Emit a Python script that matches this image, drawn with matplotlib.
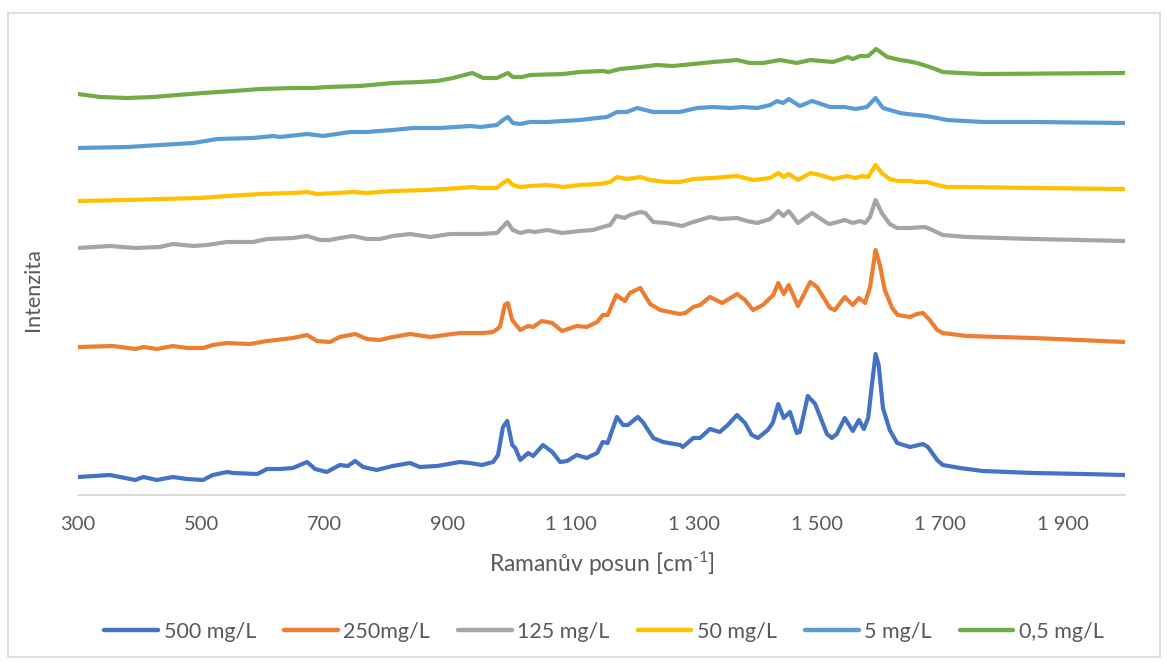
import matplotlib
matplotlib.use("Agg")
import matplotlib.pyplot as plt
from matplotlib.patches import Rectangle

plt.rcParams["font.family"] = ["Lato", "DejaVu Sans"]
plt.rcParams["mathtext.fontset"] = "custom"
plt.rcParams["mathtext.rm"] = "Lato"
plt.rcParams["mathtext.it"] = "Lato:italic"
plt.rcParams["mathtext.bf"] = "Lato:bold"

# Raman spectra (arbitrary intensity units, spectra stacked with offsets)
shift_500 = [300, 352, 393, 406, 428, 454, 477, 503, 519, 542, 552, 591, 607, 628, 649,
             672, 685, 704, 725, 738, 750, 763, 785, 811, 839, 855, 883, 920, 936, 956,
             974, 982, 990, 997, 1005, 1010, 1018, 1031, 1039, 1055, 1070, 1083, 1094,
             1110, 1126, 1143, 1152, 1160, 1175, 1185, 1193, 1209, 1217, 1234, 1250,
             1278, 1282, 1299, 1310, 1326, 1342, 1355, 1370, 1383, 1394, 1404, 1420,
             1428, 1437, 1446, 1456, 1467, 1472, 1485, 1497, 1516, 1524, 1532, 1545,
             1558, 1568, 1576, 1583, 1589, 1595, 1600, 1607, 1618, 1630, 1651, 1672,
             1680, 1695, 1704, 1732, 1769, 1851, 1932, 2000]
int_500 = [18, 20, 15, 18, 15, 18, 16, 15, 20, 23, 22, 21, 26, 26, 27,
           33, 26, 23, 30, 29, 34, 28, 25, 29, 32, 28, 29, 33, 32, 30,
           33, 40, 68, 74, 50, 47, 35, 42, 39, 50, 43, 33, 34,
           40, 37, 42, 53, 52, 78, 70, 70, 78, 73, 57, 53,
           50, 48, 57, 57, 66, 63, 70, 80, 72, 60, 57, 65,
           72, 91, 77, 83, 62, 63, 99, 91, 61, 57, 61, 77,
           64, 75, 66, 77, 110, 141, 130, 87, 65, 52, 48, 51,
           48, 35, 30, 27, 24, 22, 21, 20]

shift_250 = [300, 357, 393, 406, 428, 454, 477, 503, 519, 542, 579, 607, 649, 672, 688,
             709, 725, 750, 769, 790, 811, 839, 872, 920, 958, 974, 985, 993, 998, 1005,
             1018, 1031, 1039, 1053, 1070, 1086, 1110, 1126, 1143, 1152, 1160, 1174,
             1188, 1196, 1213, 1229, 1245, 1277, 1286, 1299, 1310, 1326, 1346, 1370,
             1383, 1396, 1412, 1429, 1437, 1446, 1454, 1469, 1489, 1500, 1521, 1529,
             1545, 1558, 1568, 1578, 1586, 1595, 1602, 1610, 1622, 1631, 1651, 1662,
             1672, 1683, 1695, 1704, 1743, 1851, 2000]
int_250 = [148, 149, 146, 148, 146, 149, 147, 147, 150, 152, 151, 154, 157, 160, 154,
           153, 158, 161, 156, 155, 158, 161, 158, 162, 162, 163, 168, 190, 192, 175,
           165, 169, 168, 174, 172, 164, 169, 168, 173, 180, 180, 200,
           194, 202, 207, 191, 185, 181, 182, 188, 190, 198, 192, 201,
           195, 185, 190, 200, 212, 201, 210, 189, 213, 208, 187, 185,
           198, 190, 197, 192, 208, 245, 230, 205, 187, 180, 178, 181,
           182, 175, 165, 162, 159, 157, 153]

shift_125 = [300, 352, 393, 433, 454, 487, 509, 542, 584, 607, 649, 672, 693, 709, 725,
             747, 769, 790, 811, 839, 872, 904, 953, 980, 988, 997, 1006, 1018, 1031,
             1042, 1062, 1086, 1115, 1136, 1152, 1164, 1174, 1187, 1196, 1213, 1221,
             1234, 1256, 1281, 1294, 1310, 1326, 1342, 1370, 1386, 1403, 1424, 1437,
             1445, 1454, 1469, 1492, 1516, 1521, 1545, 1558, 1570, 1578, 1586, 1595,
             1605, 1618, 1630, 1651, 1675, 1687, 1704, 1743, 1851, 2000]
int_125 = [247, 249, 247, 248, 251, 249, 250, 253, 253, 256, 257, 259, 255, 255, 257,
           259, 256, 256, 259, 261, 258, 261, 261, 262, 267, 273, 265, 262, 264,
           263, 265, 262, 264, 265, 268, 270, 279, 277, 280, 283, 282,
           273, 272, 269, 272, 275, 278, 276, 277, 274, 272, 276, 284,
           279, 284, 272, 282, 272, 271, 275, 272, 274, 272, 278, 295,
           282, 271, 267, 267, 268, 265, 260, 258, 256, 254]

shift_50 = [300, 380, 433, 498, 542, 596, 649, 672, 688, 720, 747, 769, 811, 867, 920,
            941, 953, 980, 990, 998, 1006, 1018, 1034, 1062, 1088, 1115, 1148, 1164,
            1175, 1191, 1213, 1229, 1256, 1277, 1299, 1331, 1370, 1396, 1424, 1437,
            1446, 1454, 1469, 1489, 1505, 1526, 1549, 1562, 1573, 1583, 1595, 1605,
            1618, 1631, 1651, 1662, 1678, 1695, 1711, 1743, 1851, 2000]
int_50 = [294, 295, 296, 297, 299, 301, 302, 303, 301, 302, 303, 302, 304, 305, 307,
          308, 307, 307, 312, 315, 310, 308, 309, 310, 308, 310, 311, 313,
          318, 316, 318, 315, 313, 313, 316, 317, 319, 315, 317, 322,
          318, 321, 315, 322, 320, 316, 319, 317, 319, 318, 330, 322,
          316, 314, 314, 313, 313, 310, 308, 308, 307, 306]

shift_5 = [300, 380, 433, 487, 526, 584, 617, 628, 672, 698, 742, 769, 811, 844, 888,
           937, 953, 980, 990, 998, 1006, 1018, 1034, 1062, 1088, 1115, 1143, 1159,
           1175, 1191, 1208, 1234, 1261, 1277, 1305, 1331, 1359, 1380, 1403, 1424,
           1435, 1445, 1454, 1472, 1492, 1521, 1545, 1562, 1581, 1595, 1607, 1635,
           1646, 1662, 1678, 1695, 1711, 1769, 1851, 2000]
int_5 = [347, 348, 350, 352, 356, 357, 359, 358, 361, 359, 363, 363, 365, 367, 367,
         369, 368, 370, 375, 378, 372, 371, 373, 373, 374, 375, 377, 378,
         383, 383, 387, 383, 383, 383, 387, 388, 387, 388, 387, 390,
         394, 392, 396, 389, 394, 388, 388, 386, 388, 397, 387, 382,
         381, 380, 379, 377, 375, 373, 373, 372]

shift_05 = [300, 336, 380, 422, 461, 503, 552, 596, 649, 682, 704, 758, 811, 855, 883,
            909, 940, 958, 980, 998, 1006, 1021, 1034, 1088, 1115, 1152, 1161, 1180,
            1213, 1240, 1266, 1299, 1331, 1370, 1391, 1412, 1440, 1467, 1489, 1526,
            1550, 1558, 1570, 1583, 1596, 1614, 1635, 1646, 1662, 1683, 1704, 1732,
            1769, 2000]
int_05 = [401, 398, 397, 398, 400, 402, 404, 406, 407, 407, 408, 409, 412, 413, 414,
          417, 422, 417, 417, 422, 418, 418, 420, 421, 423, 424, 423, 426,
          428, 430, 429, 431, 433, 435, 432, 432, 435, 432, 435, 433,
          438, 436, 439, 439, 446, 438, 435, 434, 432, 428, 423, 422,
          421, 422]

labels = ["500 mg/L", "250mg/L", "125 mg/L", "50 mg/L", "5 mg/L", "0,5 mg/L"]
colors = ["#4472C4", "#ED7D31", "#A5A5A5", "#FFC000", "#5B9BD5", "#70AD47"]
series = [(shift_500, int_500), (shift_250, int_250), (shift_125, int_125),
          (shift_50, int_50), (shift_5, int_5), (shift_05, int_05)]

x_ticks = [300, 500, 700, 900, 1100, 1300, 1500, 1700, 1900]

text_color = "#595959"
grid_color = "#D9D9D9"

W, H = 1167, 664
fig = plt.figure(figsize=(W / 100, H / 100), dpi=100)
ax = fig.add_axes([78 / W, (H - 495) / H, 1047 / W, 475 / H])

for (xs, ys), lab, col in zip(series, labels, colors):
    ax.plot(xs, ys, color=col, lw=3.0, label=lab, solid_capstyle="round",
            solid_joinstyle="round")

ax.set_xlim(300, 2000)
ax.set_ylim(0, 475)
ax.set_xticks(x_ticks)
ax.set_xticklabels([f"{v:,}".replace(",", " ") for v in x_ticks])
ax.set_yticks([])
ax.tick_params(axis="x", length=0, pad=15, labelsize=14.5, labelcolor=text_color)
for s in ("top", "right", "left"):
    ax.spines[s].set_visible(False)
ax.spines["bottom"].set_color(grid_color)
ax.spines["bottom"].set_linewidth(1.3)

ax.set_xlabel("Ramanův posun [cm$^{\\text{-1}}$]", fontsize=16.5,
              color=text_color, labelpad=12)
fig.text(33 / W, 1 - 290 / H, "Intenzita", rotation=90, ha="center", va="center",
         fontsize=15.5, color=text_color)

leg = fig.legend(loc="center", bbox_to_anchor=(604 / W, 1 - 632 / H), ncol=6,
                 frameon=False, fontsize=15.5, handlelength=2.5, handletextpad=0.25,
                 columnspacing=1.3)
for t in leg.get_texts():
    t.set_color(text_color)
for h in leg.get_lines():
    h.set_linewidth(3.2)

fig.patches.append(Rectangle((8 / W, 1 - 657 / H), 1152 / W, 644 / H,
                             transform=fig.transFigure, fill=False,
                             edgecolor=grid_color, lw=1.2))

fig.savefig("out.png", dpi=100)
